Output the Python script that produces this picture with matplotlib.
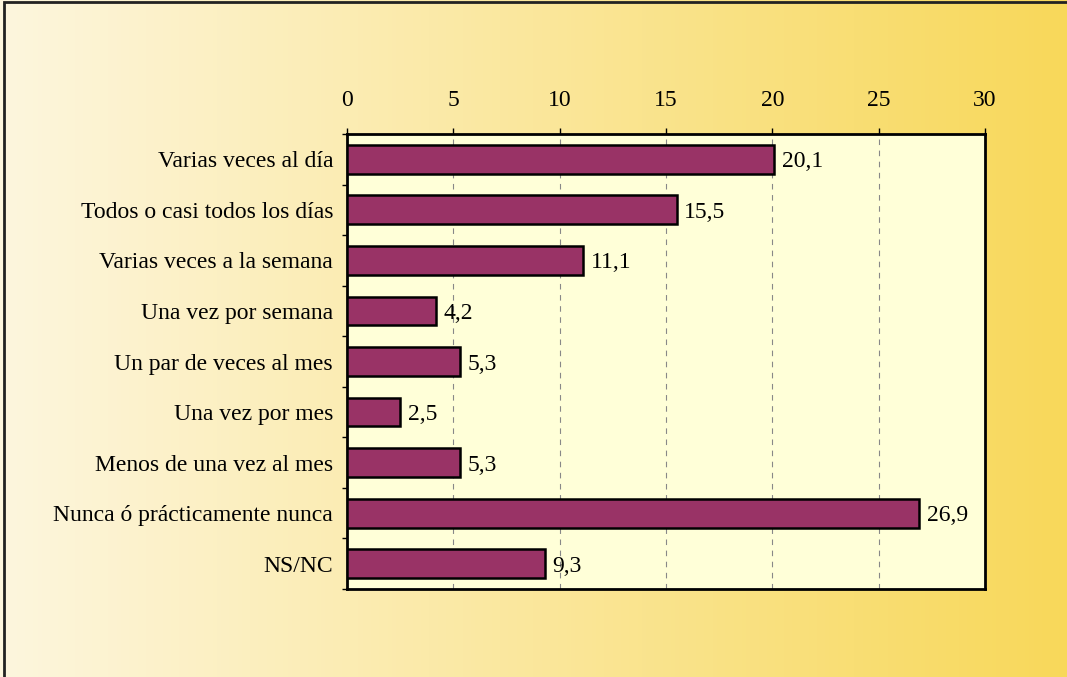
import numpy as np
import matplotlib.pyplot as plt
from matplotlib.patches import Rectangle

categories = ['Varias veces al día', 'Todos o casi todos los días', 'Varias veces a la semana',
              'Una vez por semana', 'Un par de veces al mes', 'Una vez por mes',
              'Menos de una vez al mes', 'Nunca ó prácticamente nunca', 'NS/NC']
values = [20.1, 15.5, 11.1, 4.2, 5.3, 2.5, 5.3, 26.9, 9.3]
xticks = [0, 5, 10, 15, 20, 25, 30]

plt.rcParams['font.family'] = ['Liberation Serif', 'DejaVu Serif']

fig = plt.figure(figsize=(10.67, 6.77), dpi=100)

# gradient background
bg = fig.add_axes([0, 0, 1, 1], zorder=0)
c_left = np.array([253, 246, 222]) / 255
c_right = np.array([248, 216, 90]) / 255
t = np.linspace(0, 1, 256)[None, :, None]
grad = c_left + (c_right - c_left) * t
bg.imshow(grad, aspect='auto', extent=[0, 1, 0, 1])
bg.set_xlim(0, 1)
bg.set_ylim(0, 1)
bg.axis('off')
bg.add_patch(Rectangle((0.004, -0.01), 1.2, 1.007, fill=False, edgecolor='#222222', lw=2.0,
                       transform=bg.transAxes))

ax = fig.add_axes([0.3252, 0.130, 0.598, 0.672], zorder=1)
ax.set_facecolor('#FFFFD8')
y = np.arange(len(categories))
ax.barh(y, values, height=0.57, color='#993366', edgecolor='black', lw=1.8, zorder=3)
for yi, v in zip(y, values):
    ax.text(v + 0.35, yi, f'{v:.1f}'.replace('.', ','), va='center_baseline', ha='left', fontsize=17)

ax.set_xlim(0, 30)
ax.set_ylim(len(categories) - 0.5, -0.5)
ax.set_xticks(xticks)
ax.xaxis.tick_top()
ax.tick_params(axis='x', direction='out', length=4.5, width=1, labelsize=17, pad=12)
ax.set_yticks(y)
ax.set_yticklabels(categories, va='center_baseline')
ax.set_yticks(np.arange(len(categories) + 1) - 0.5, minor=True)
ax.tick_params(axis='y', which='major', length=0, labelsize=17, pad=10)
ax.tick_params(axis='y', which='minor', length=3.6, width=1, direction='out')
ax.grid(axis='x', linestyle=(0, (5, 5)), color='#888888', lw=0.8, zorder=1)
for s in ax.spines.values():
    s.set_linewidth(2)
    s.set_color('black')

fig.savefig('out.png', dpi=100)
